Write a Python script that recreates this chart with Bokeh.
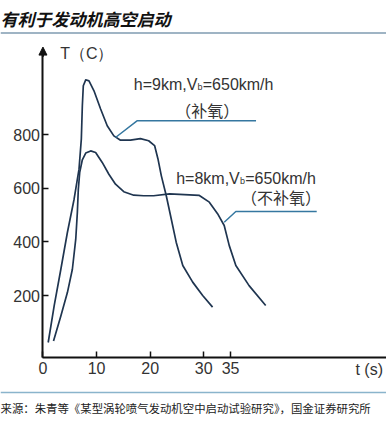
from bokeh.plotting import figure
from bokeh.models import Range1d, FixedTicker, Arrow, NormalHead
from bokeh.core.properties import value
from bokeh.embed import file_html
from bokeh.resources import INLINE

# ---- data ----
# h=9km, Vb=650km/h (with oxygen supplement)
t_o2 = [0.98, 2.10, 3.34, 4.56, 5.81, 6.73, 7.16, 7.35, 7.53, 7.98, 8.59, 9.52, 10.76,
        11.99, 13.23, 14.47, 16.33, 18.18, 19.72, 20.83, 21.45, 22.08, 23.0, 23.93,
        24.86, 26.09, 27.94, 29.80, 31.65]
T_o2 = [25, 162, 298, 435, 559, 671, 783, 907, 982, 1004, 1000, 963, 895,
        833, 795, 779, 779, 785, 777, 759, 710, 647, 573, 486,
        399, 312, 250, 200, 157]

# h=8km, Vb=650km/h (without oxygen supplement)
t_no = [1.97, 3.34, 4.56, 5.49, 6.12, 6.42, 6.60, 6.86, 7.35, 7.98, 8.91, 9.83, 11.06,
        12.30, 13.54, 15.08, 16.94, 18.79, 20.65, 23.62, 29.18, 31.04, 32.58, 33.82,
        34.75, 35.99, 38.46, 41.56]
T_no = [31, 124, 211, 298, 410, 510, 596, 659, 706, 731, 739, 733, 696,
        652, 615, 587, 574, 572, 572, 579, 573, 548, 505, 461,
        387, 312, 237, 163]

# leader lines
lead1_t = [13.54, 17.55, 39.76]
lead1_T = [789, 851, 851]
lead2_t = [33.82, 35.99, 51.08]
lead2_T = [473, 513, 513]

x_ticks = [0, 10, 20, 30, 35]
y_ticks = [200, 400, 600, 800]

title_text = "有利于发动机高空启动"
source_text = "来源：朱青等《某型涡轮喷气发动机空中启动试验研究》，国金证券研究所"
y_label = "T（C）"
x_label = "t (s)"
lab1 = ["h=9km,V", "b", "=650km/h", "（补氧）"]
lab2 = ["h=8km,V", "b", "=650km/h", "（不补氧）"]

CURVE = "#1f3550"
LEAD = "#3577a0"
TXT = "#333333"
AXIS = "#111111"
FONT = "Liberation Sans"
CJK = "Noto Sans CJK SC"

X0 = -7.92    # left edge of the canvas in t units
X1 = 64.1
Y_AXIS_T = -30.9

p = figure(width=386, height=423, output_backend="svg", toolbar_location=None,
           x_range=Range1d(X0, X1), y_range=Range1d(-276.9, 1299.6),
           min_border=0, min_border_left=0, min_border_right=0,
           min_border_top=0, min_border_bottom=0)
p.outline_line_color = None
p.xgrid.visible = False
p.ygrid.visible = False
p.background_fill_color = "white"
p.border_fill_color = "white"

for ax in (p.xaxis[0], p.yaxis[0]):
    ax.axis_line_color = AXIS
    ax.axis_line_width = 2
    ax.major_tick_line_color = AXIS
    ax.major_tick_line_width = 1.5
    ax.major_tick_in = 6
    ax.major_tick_out = 0
    ax.minor_tick_line_color = None
    ax.major_label_text_font = FONT
    ax.major_label_text_font_size = "16px"
    ax.major_label_text_color = TXT
p.xaxis[0].ticker = FixedTicker(ticks=x_ticks)
p.yaxis[0].ticker = FixedTicker(ticks=y_ticks)
p.xaxis[0].fixed_location = Y_AXIS_T
p.yaxis[0].fixed_location = 0
p.xaxis[0].bounds = (0, X1)
p.yaxis[0].bounds = (Y_AXIS_T, 1110)
p.xaxis[0].major_label_standoff = 5
p.yaxis[0].major_label_standoff = 3

# y-axis arrow head
p.add_layout(Arrow(x_start=0, y_start=1090, x_end=0, y_end=1126, line_width=2, line_color=AXIS,
                   end=NormalHead(size=8, fill_color=AXIS, line_color=AXIS)))

# curves
p.line(t_o2, T_o2, line_color=CURVE, line_width=1.7, line_join="round")
p.line(t_no, T_no, line_color=CURVE, line_width=1.7, line_join="round")
p.line(lead1_t, lead1_T, line_color=LEAD, line_width=1.5)
p.line(lead2_t, lead2_T, line_color=LEAD, line_width=1.5)


def vb_label(x, y, parts):
    p.text([x], [y], text=[parts[0]], text_font=value(FONT), text_font_size="16px",
           text_color=TXT, text_baseline="middle", text_align="left")
    p.text([x], [y], text=[parts[1]], text_font=value(FONT), text_font_size="9px",
           text_color=TXT, text_baseline="middle", text_align="left", x_offset=63.8, y_offset=3)
    p.text([x], [y], text=[parts[2]], text_font=value(FONT), text_font_size="16px",
           text_color=TXT, text_baseline="middle", text_align="left", x_offset=69.0)


vb_label(16.94, 987, lab1)
p.text([30.67], [890], text=[lab1[3]], text_font=value(CJK), text_font_size="16px",
       text_color=TXT, text_baseline="middle", text_align="center")
vb_label(24.86, 638, lab2)
p.text([44.4], [566], text=[lab2[3]], text_font=value(CJK), text_font_size="16px",
       text_color=TXT, text_baseline="middle", text_align="center")

p.text([3.21], [1102], text=[y_label], text_font=value(FONT), text_font_size="16px",
       text_color=TXT, text_baseline="middle", text_align="left")
p.text([58.3], [-75.6], text=[x_label], text_font=value(FONT), text_font_size="16px",
       text_color=TXT, text_baseline="middle", text_align="left")

# heading, separators and source line
p.text([X0], [1232.6], text=[title_text], text_font=value(CJK), text_font_size="17px",
       text_font_style="bold italic", text_color="#111111",
       text_baseline="middle", text_align="left")
p.line([X0, X1], [1178.5, 1178.5], line_color="#7f9bb0", line_width=1.5)
p.line([X0, X1], [-161.4, -161.4], line_color="#8ab4cc", line_width=1.5)
p.text([X0], [-217.3], text=[source_text], text_font=value(CJK), text_font_size="11.4px",
       text_color="#222222", text_baseline="middle", text_align="left")

open("out.html", "w").write(file_html(p, INLINE))
